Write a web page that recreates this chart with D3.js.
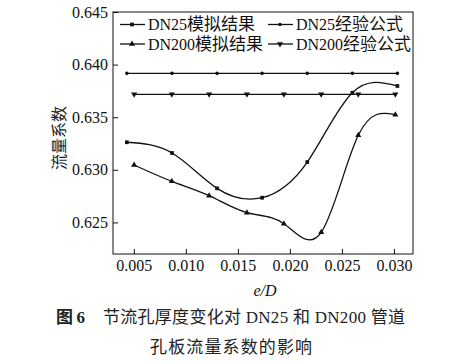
<!DOCTYPE html>
<html><head><meta charset="utf-8">
<script src="https://cdn.jsdelivr.net/npm/d3@7"></script>
<style>
body{margin:0;background:#fff;}
svg{display:block;}
</style></head>
<body>
<svg id="c" width="470" height="364"></svg>
<script>
// ---- data ----
const xDN25 = [0.00433, 0.00867, 0.0130, 0.01733, 0.02167, 0.0260, 0.03033];
const simDN25 = [0.63262, 0.6316, 0.62824, 0.62735, 0.63074, 0.63733, 0.63797];
const empDN25 = [0.63917, 0.63917, 0.63917, 0.63917, 0.63917, 0.63917, 0.63917];
const xDN200 = [0.00503, 0.00865, 0.01224, 0.01587, 0.01942, 0.02301, 0.02657, 0.03013];
const simDN200 = [0.63046, 0.62891, 0.62754, 0.62593, 0.62488, 0.62406, 0.63328, 0.63524];
const empDN200 = [0.63718, 0.63718, 0.63718, 0.63718, 0.63718, 0.63718, 0.63718, 0.63718];
const xTicks = [0.005, 0.010, 0.015, 0.020, 0.025, 0.030];
const yTicks = [0.625, 0.630, 0.635, 0.640, 0.645];
const seriesNames = [["DN25", "模拟结果"], ["DN25", "经验公式"], ["DN200", "模拟结果"], ["DN200", "经验公式"]];
const xTitle = "e/D";
const yTitle = "流量系数";
const captionLabel = [["图", "cjk"], ["6", "lat"]];
const captionLine1 = [["节流孔厚度变化对", "cjk"], [" DN25 ", "lat"], ["和", "cjk"], [" DN200 ", "lat"], ["管道", "cjk"]];
const captionLine2 = [["孔板流量系数的影响", "cjk"]];

// ---- layout ----
const W = 470, H = 364;
const m = {l: 113, r: 57, t: 12, b: 110};
const iw = W - m.l - m.r, ih = H - m.t - m.b;
const svg = d3.select("#c");
const LAT = "'Liberation Serif',serif";
const CJK = "'Noto Sans CJK SC',sans-serif";
const ink = "#111";

const x = d3.scaleLinear().domain([0.003, 0.03183]).range([m.l, m.l + iw]);
const y = d3.scaleLinear().domain([0.622, 0.645]).range([m.t + ih, m.t]);

// frame
svg.append("rect").attr("x", m.l).attr("y", m.t).attr("width", iw).attr("height", ih)
  .attr("fill", "none").attr("stroke", ink).attr("stroke-width", 1);

const xAxis = svg.append("g").attr("transform", `translate(0,${m.t + ih})`)
  .call(d3.axisBottom(x).tickValues(xTicks).tickFormat(d3.format(".3f")).tickSizeInner(-5).tickSizeOuter(0).tickPadding(6));
const yAxis = svg.append("g").attr("transform", `translate(${m.l},0)`)
  .call(d3.axisLeft(y).tickValues(yTicks).tickFormat(d3.format(".3f")).tickSizeInner(-5).tickSizeOuter(0).tickPadding(5));
[xAxis, yAxis].forEach(g => {
  g.select(".domain").remove();
  g.selectAll(".tick line").attr("stroke", ink);
  g.selectAll(".tick text").attr("fill", ink).style("font-family", LAT).style("font-size", "16px");
});

// axis titles
svg.append("text").attr("x", m.l + iw / 2 + 2).attr("y", 296).attr("text-anchor", "middle")
  .style("font-family", LAT).style("font-size", "16px").style("font-style", "italic").attr("fill", ink).text(xTitle);
svg.append("text").attr("transform", `translate(65,138) rotate(-90)`).attr("text-anchor", "middle")
  .style("font-family", CJK).style("font-size", "16px").attr("fill", "#222").text(yTitle);

// series
const line = d3.line().curve(d3.curveNatural).x(d => x(d[0])).y(d => y(d[1]));
const straight = d3.line().x(d => x(d[0])).y(d => y(d[1]));
const series = [
  {xs: xDN25, ys: simDN25, sym: d3.symbolSquare, size: 14, rot: 0, gen: line},
  {xs: xDN25, ys: empDN25, sym: d3.symbolCircle, size: 10, rot: 0, gen: straight},
  {xs: xDN200, ys: simDN200, sym: d3.symbolTriangle, size: 16, rot: 0, gen: line},
  {xs: xDN200, ys: empDN200, sym: d3.symbolTriangle, size: 16, rot: 180, gen: straight},
];
series.forEach(s => {
  const pts = s.xs.map((v, i) => [v, s.ys[i]]);
  svg.append("path").attr("d", s.gen(pts)).attr("fill", "none").attr("stroke", ink).attr("stroke-width", 1.3);
  svg.append("g").selectAll("path").data(pts).join("path")
    .attr("d", d3.symbol().type(s.sym).size(s.size))
    .attr("transform", d => `translate(${x(d[0])},${y(d[1])}) rotate(${s.rot})`)
    .attr("fill", ink);
});

// legend
const legPos = [[120, 24.5], [268, 24.5], [120, 44], [268, 44]];
series.forEach((s, i) => {
  const [lx, ly] = legPos[i];
  svg.append("line").attr("x1", lx).attr("x2", lx + 25).attr("y1", ly).attr("y2", ly)
    .attr("stroke", ink).attr("stroke-width", 1.3);
  svg.append("path").attr("d", d3.symbol().type(s.sym).size(s.size)())
    .attr("transform", `translate(${lx + 12},${ly}) rotate(${s.rot})`).attr("fill", ink);
  const t = svg.append("text").attr("x", lx + 28).attr("y", ly + 5.5).attr("fill", ink);
  t.append("tspan").style("font-family", LAT).style("font-size", "16px").text(seriesNames[i][0]);
  t.append("tspan").style("font-family", CJK).style("font-size", "17px").text(seriesNames[i][1]);
});

// caption
function rich(xp, yp, parts, len, bold) {
  const t = svg.append("text").attr("x", xp).attr("y", yp).attr("fill", "#222")
    .style("font-size", "17px").style("white-space", "pre");
  if (len) t.attr("textLength", len).attr("lengthAdjust", "spacing");
  if (bold) t.style("font-weight", "bold");
  parts.forEach(([txt, f]) => t.append("tspan").style("font-family", f === "cjk" ? CJK : LAT).text(txt));
  return t;
}
rich(56, 323, captionLabel, 29, true);
rich(103, 323, captionLine1, 302, false);
rich(150, 353, captionLine2, 162, false);
</script>
</body></html>
